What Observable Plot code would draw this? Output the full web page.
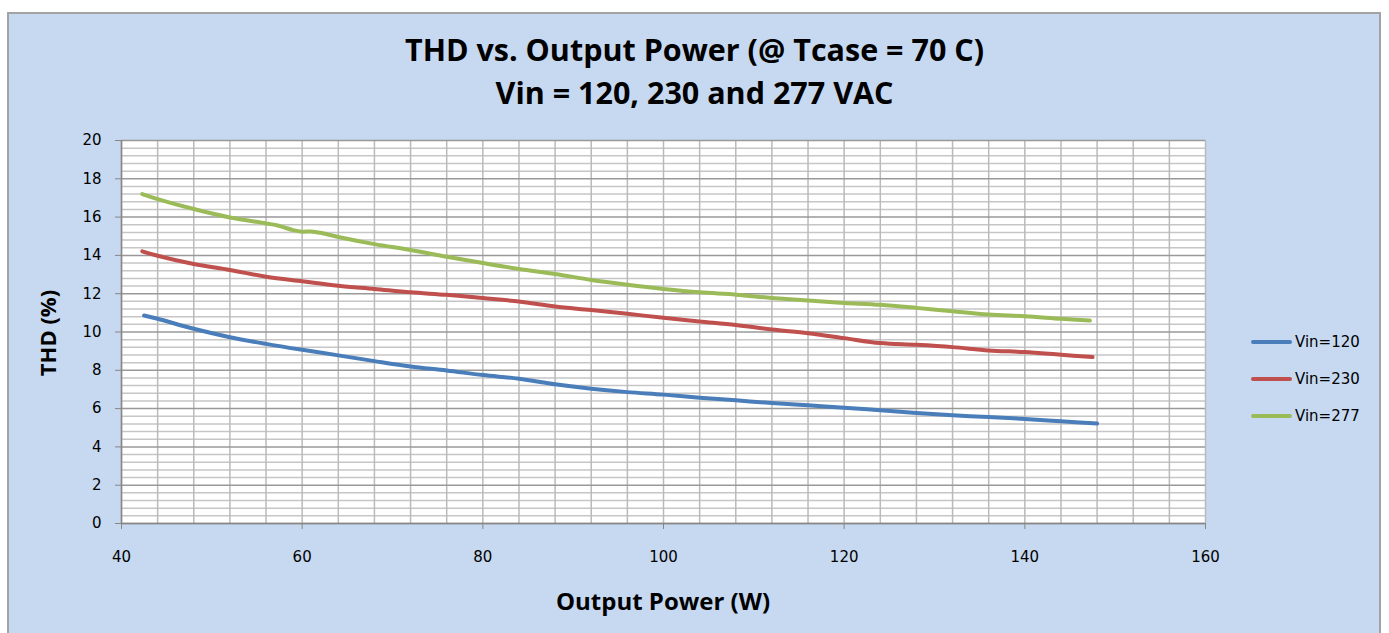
<!DOCTYPE html>
<html><head><meta charset="utf-8">
<script src="https://cdn.jsdelivr.net/npm/d3@7"></script>
<script src="https://cdn.jsdelivr.net/npm/@observablehq/plot@0.6"></script>
<style>
body{margin:0;background:#fff;width:1389px;height:633px;overflow:hidden;position:relative;font-family:"Open Sans",sans-serif;}
#frame{position:absolute;left:7px;top:12px;width:1374px;height:640px;background:#c6d9f1;border:2px solid #a3a3a3;box-sizing:border-box;}
#title{position:absolute;left:0;top:28px;width:1389px;text-align:center;font-weight:700;font-size:30.5px;line-height:43px;color:#000;}
#chart{position:absolute;left:0;top:120px;}
#xlabel{position:absolute;left:121px;width:1084px;text-align:center;top:584px;font-weight:700;font-size:24px;line-height:33px;color:#000;}
#ylabel{position:absolute;left:47px;top:333px;transform:translate(-50%,-50%) rotate(-90deg);font-weight:700;font-size:22px;white-space:nowrap;color:#000;}
#legend{position:absolute;left:1251px;top:324px;font-family:"DejaVu Sans",sans-serif;font-size:15px;color:#000;}
.item{height:36.8px;display:flex;align-items:center;}
.swatch{width:41px;height:4px;margin-right:3px;border-radius:2px;}
</style>
</head><body>
<div id="frame"></div>
<div id="title">THD vs. Output Power (@ Tcase = 70 C)<br>Vin = 120, 230 and 277 VAC</div>
<div id="chart"></div>
<div id="xlabel">Output Power (W)</div>
<div id="ylabel">THD (%)</div>
<div id="legend"></div>
<script>
// Data
const seriesNames = ["Vin=120", "Vin=230", "Vin=277"];
const seriesColors = ["#4a7ebb", "#c0504d", "#9bbb59"];

const power120 = [42.5, 44, 48, 52, 56, 60, 64, 68, 72, 76, 80, 84, 88, 92, 96, 100, 104, 108, 112, 116, 120, 124, 128, 132, 136, 140, 144, 148];
const thd120 = [10.86, 10.69, 10.17, 9.73, 9.38, 9.07, 8.78, 8.48, 8.2, 7.99, 7.75, 7.56, 7.27, 7.04, 6.86, 6.73, 6.57, 6.43, 6.29, 6.17, 6.05, 5.91, 5.77, 5.65, 5.56, 5.46, 5.34, 5.22];

const power230 = [42.3, 44, 48, 52, 56, 60, 64, 68, 72, 76, 80, 84, 88, 92, 96, 100, 104, 108, 112, 116, 120, 124, 128, 132, 136, 140, 144, 147.5];
const thd230 = [14.21, 13.98, 13.55, 13.24, 12.89, 12.65, 12.42, 12.25, 12.07, 11.94, 11.77, 11.59, 11.33, 11.15, 10.95, 10.74, 10.55, 10.37, 10.13, 9.94, 9.68, 9.42, 9.33, 9.21, 9.04, 8.95, 8.81, 8.69];

const power277 = [42.3, 44, 48, 52, 56, 57.4, 59, 60, 61, 62, 64, 68, 72, 76, 80, 84, 88, 92, 96, 100, 104, 108, 112, 116, 120, 124, 128, 132, 136, 140, 144, 147.2];
const thd277 = [17.2, 16.94, 16.42, 15.98, 15.67, 15.55, 15.32, 15.24, 15.25, 15.18, 14.96, 14.59, 14.28, 13.93, 13.6, 13.29, 13.03, 12.72, 12.47, 12.25, 12.07, 11.95, 11.78, 11.64, 11.52, 11.42, 11.26, 11.08, 10.91, 10.82, 10.69, 10.6];

const xTicks = [40, 60, 80, 100, 120, 140, 160];
const yTicks = [0, 2, 4, 6, 8, 10, 12, 14, 16, 18, 20];

const seriesX = [power120, power230, power277];
const seriesY = [thd120, thd230, thd277];
const data = seriesNames.flatMap((name, s) => seriesX[s].map((p, i) => ({power: p, thd: seriesY[s][i], vin: name})));

const xGrid = d3.range(40, 160.01, 4);
const yMinor = d3.range(0, 50).map(i => i * 0.4).filter(v => Math.abs(v / 2 - Math.round(v / 2)) > 1e-6);

const chart = Plot.plot({
  width: 1389, height: 513,
  marginLeft: 121, marginRight: 184, marginTop: 20, marginBottom: 110,
  style: {background: "transparent", fontFamily: "DejaVu Sans, sans-serif", fontSize: "15px", color: "#000"},
  x: {domain: [40, 160]},
  y: {domain: [0, 20]},
  color: {domain: seriesNames, range: seriesColors},
  marks: [
    Plot.frame({fill: "#fff", stroke: "none"}),
    Plot.ruleY(yMinor, {stroke: "#c6c6c6", strokeWidth: 1.5}),
    Plot.ruleX(xGrid, {stroke: "#bababa", strokeWidth: 1.5}),
    Plot.ruleY(yTicks, {stroke: "#999999", strokeWidth: 1.5}),
    Plot.ruleX([40], {stroke: "#868686", strokeWidth: 1.5}),
    Plot.ruleY([0], {stroke: "#868686", strokeWidth: 1.5}),
    Plot.axisY({ticks: yTicks, tickSize: 6, tickPadding: 14, label: null, stroke: "#868686", fill: "#000"}),
    Plot.axisX({ticks: xTicks, tickSize: 6, tickPadding: 22, label: null, stroke: "#868686", fill: "#000"}),
    Plot.line(data, {x: "power", y: "thd", z: "vin", stroke: "vin", strokeWidth: 4, curve: "catmull-rom", strokeLinecap: "round"})
  ]
});
document.getElementById("chart").appendChild(chart);

const legend = document.getElementById("legend");
seriesNames.forEach((name, i) => {
  const item = document.createElement("div");
  item.className = "item";
  item.innerHTML = `<span class="swatch" style="background:${seriesColors[i]}"></span><span>${name}</span>`;
  legend.appendChild(item);
});
</script>
</body></html>
